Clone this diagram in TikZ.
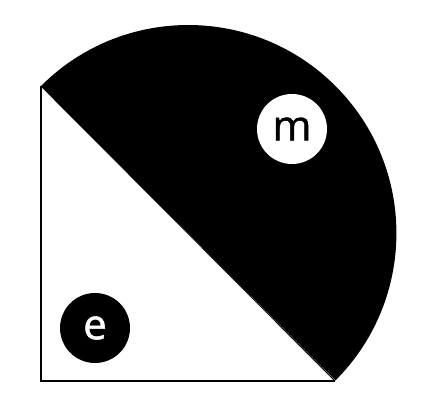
\documentclass[tikz,border=0pt]{standalone}
\usepackage{fontspec}
\setmainfont{Open Sans}
\newfontfamily\ballfont[FakeBold=1.2]{Open Sans}
\begin{document}
\begin{tikzpicture}[x=1pt,y=1pt,
  ball/.style={circle,minimum size=70pt,inner sep=0pt,font=\ballfont\fontsize{42}{42}\selectfont}]
\useasboundingbox (0,0) rectangle (429,407);
\coordinate (A) at (41,321);
\coordinate (B) at (41,26);
\coordinate (C) at (335,26);
\fill[black] (A) arc[start angle=135,end angle=-45,radius=208.2] -- cycle;
\draw[line width=2.2pt,line join=miter] (A) -- (B) -- (C);
\draw[line width=1pt] (A) -- (C);
\node[ball,fill=white,text=black] (m) at (292,278) {m};
\node[ball,fill=black,text=white] (e) at (95,79) {e};
\end{tikzpicture}
\end{document}
